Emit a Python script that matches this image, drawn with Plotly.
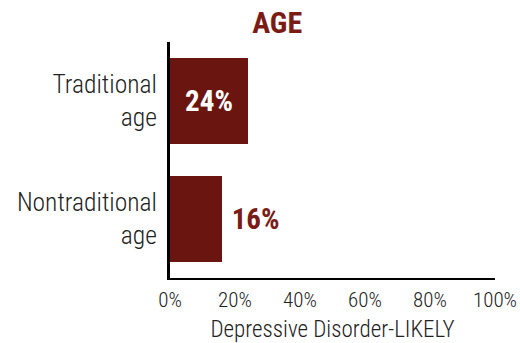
import plotly.graph_objects as go

categories = ["Traditional<br>age", "Nontraditional<br>age"]
values = [24, 16]
labels = ["24%", "16%"]
x_ticks = [0, 20, 40, 60, 80, 100]
x_tick_labels = ["0%", "20%", "40%", "60%", "80%", "100%"]

FONT = "Roboto Condensed, Liberation Sans Narrow, Arial Narrow, sans-serif"
BAR = "#6b1510"
TITLE = "#7a1c16"

fig = go.Figure(go.Bar(
    x=values, y=categories, orientation="h",
    marker=dict(color=BAR, line=dict(width=0)),
    text=["\u00a0" + t if i == 1 else t for i, t in enumerate(labels)],
    textposition=["inside", "outside"],
    insidetextanchor="middle",
    insidetextfont=dict(color="white", size=29, family=FONT, weight="bold"),
    outsidetextfont=dict(color=TITLE, size=29, family=FONT, weight="bold"),
    cliponaxis=False,
))

fig.update_layout(
    width=520, height=343,
    margin=dict(l=170, r=25, t=42, b=65, autoexpand=False),
    paper_bgcolor="white", plot_bgcolor="white",
    bargap=0.27,
    showlegend=False,
    title=dict(text="<b>AGE</b>", x=0.533, xanchor="center", y=0.935, yanchor="middle",
               font=dict(family=FONT, size=30, color=TITLE)),
    font=dict(family=FONT, color="#222", weight=300),
)
fig.update_xaxes(range=[0, 100], tickvals=x_ticks, ticktext=x_tick_labels, automargin=False,
                 showgrid=False, zeroline=False, showline=True, linecolor="black", linewidth=2,
                 ticks="", tickfont=dict(size=21, color="#222", weight=300), ticklabelstandoff=2,
                 title=dict(text="Depressive Disorder-LIKELY", font=dict(size=23, color="#222", weight=300), standoff=20))
fig.update_yaxes(autorange="reversed", showgrid=False, zeroline=False, showline=True, automargin=False,
                 linecolor="black", linewidth=3, ticks="",
                 tickfont=dict(size=25.5, color="#222", weight=300), ticklabelstandoff=5)

fig.write_html("out.html")
